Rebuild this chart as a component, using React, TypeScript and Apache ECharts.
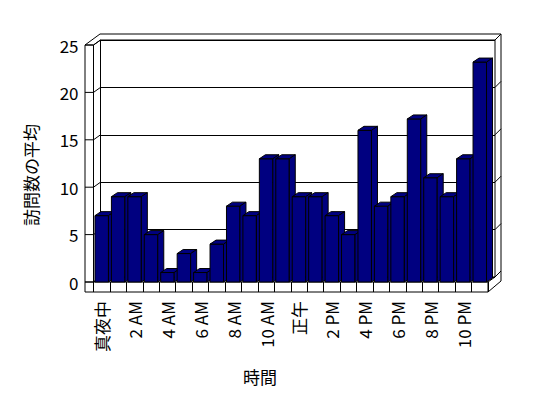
import React, { useEffect, useRef } from "react";
import * as echarts from "echarts";

const hours = [
  "真夜中", "1 AM", "2 AM", "3 AM", "4 AM", "5 AM", "6 AM", "7 AM", "8 AM", "9 AM", "10 AM", "11 AM",
  "正午", "1 PM", "2 PM", "3 PM", "4 PM", "5 PM", "6 PM", "7 PM", "8 PM", "9 PM", "10 PM", "11 PM",
];
const visits = [7, 9, 9, 5, 1, 3, 1, 4, 8, 7, 13, 13, 9, 9, 7, 5, 16, 8, 9, 17.2, 11, 9, 13, 23.2];
const yTicks = [0, 5, 10, 15, 20, 25];
const yTitle = "訪問数の平均";
const xTitle = "時間";

const FONT = "'Noto Sans CJK JP', 'Liberation Sans', sans-serif";
const NAVY = "#000080";

// geometry of the pseudo-3D frame
const GL = 93.5; // front grid left
const GT = 45; // front grid top (value 25)
const GW = 394.5;
const GH = 237; // bottom at 282
const DX = 7; // depth offset of the back wall
const DY = -5;
const TX = 6; // back wall thickness
const TY = -6;
const WALL = 8.5; // left wall thickness
const FLOOR = 10; // floor thickness

export default function App() {
  const ref = useRef<HTMLDivElement>(null);

  useEffect(() => {
    if (!ref.current) return;
    const chart = echarts.init(ref.current, undefined, { renderer: "svg" });
    const GR = GL + GW;
    const GB = GT + GH;
    const BL = GL + DX;
    const BR = GR + DX;
    const BT = GT + DY;
    const BB = GB + DY;
    const line = { stroke: "#000", lineWidth: 1, fill: "none" };

    const frame: any[] = [
      {
        type: "polygon",
        z: -10,
        shape: {
          points: [
            [GL - WALL, GT],
            [BL + TX - WALL + 2, BT + TY],
            [BR + TX, BT + TY],
            [BR + TX, BB + TY + FLOOR],
            [GR, GB + FLOOR],
            [GL - WALL, GB + FLOOR],
          ],
        },
        style: { fill: "#fff", stroke: "#000", lineWidth: 1 },
      },
      { type: "polyline", shape: { points: [[GL - WALL, GT], [GL, GT], [BL, BT], [BR, BT], [BR + TX, BT + TY]] }, style: line },
      { type: "line", shape: { x1: GL, y1: GT, x2: GL, y2: GB }, style: line },
      { type: "line", shape: { x1: BL, y1: BT, x2: BL, y2: BB }, style: line },
      { type: "line", shape: { x1: BR, y1: BT, x2: BR, y2: BB }, style: line },
      { type: "polyline", shape: { points: [[GL, GB], [BL, BB], [BR, BB], [BR + TX, BB + TY]] }, style: line },
      { type: "polyline", shape: { points: [[GL - WALL, GB], [GR, GB], [BR, BB]] }, style: line },
      { type: "line", shape: { x1: GR, y1: GB, x2: GR, y2: GB + FLOOR }, style: line },
      {
        type: "text",
        x: 30,
        y: 175,
        rotation: Math.PI / 2,
        style: { text: yTitle, fontFamily: FONT, fontSize: 17, fill: "#000", align: "center", verticalAlign: "middle" },
      },
      {
        type: "text",
        x: 260,
        y: 376,
        style: { text: xTitle, fontFamily: FONT, fontSize: 17, fill: "#000", align: "center", verticalAlign: "middle" },
      },
    ];

    chart.setOption({
      animation: false,
      backgroundColor: "#fff",
      textStyle: { fontFamily: FONT },
      graphic: { elements: frame },
      grid: [
        { left: GL, top: GT, width: GW, height: GH },
        { left: BL, top: BT, width: GW, height: GH },
      ],
      xAxis: [
        {
          type: "category",
          gridIndex: 0,
          data: hours,
          boundaryGap: true,
          axisLine: { show: false },
          axisTick: { show: true, interval: 0, length: FLOOR, lineStyle: { color: "#000", width: 1 } },
          axisLabel: { interval: 1, rotate: 90, margin: 19, color: "#000", fontSize: 17, fontFamily: FONT },
          splitLine: { show: false },
        },
        {
          type: "category",
          gridIndex: 1,
          data: hours,
          show: false,
        },
      ],
      yAxis: [
        {
          type: "value",
          gridIndex: 0,
          min: 0,
          max: 25,
          interval: 5,
          axisLine: { show: false },
          axisTick: { show: false },
          splitLine: { show: false },
          axisLabel: { margin: 15, color: "#000", fontSize: 17, fontFamily: FONT },
        },
        {
          type: "value",
          gridIndex: 1,
          min: 0,
          max: 25,
          interval: 5,
          axisLine: { show: false },
          axisTick: { show: false },
          axisLabel: { show: false },
          splitLine: { show: true, lineStyle: { color: "#000", width: 1 } },
        },
      ],
      series: [
        {
          type: "custom",
          name: "wallTicks",
          xAxisIndex: 0,
          yAxisIndex: 0,
          silent: true,
          clip: false,
          z: 1,
          data: yTicks.map((v) => [0, v]),
          renderItem: (params: any, api: any) => {
            const c = api.coord([0, api.value(1)]);
            const bw = api.size([1, 0])[0];
            const xl = c[0] - bw / 2;
            const y = c[1];
            const xr = xl + GW + DX;
            return {
              type: "group",
              children: [
                { type: "polyline", shape: { points: [[xl - WALL, y], [xl, y], [xl + DX, y + DY]] }, style: line },
                { type: "line", shape: { x1: xr, y1: y + DY, x2: xr + TX, y2: y + DY + TY }, style: line },
              ],
            };
          },
        },
        {
          type: "custom",
          name: "訪問数の平均",
          xAxisIndex: 0,
          yAxisIndex: 0,
          clip: false,
          z: 3,
          data: visits.map((v, i) => [i, v]),
          renderItem: (params: any, api: any) => {
            const i = api.value(0);
            const top = api.coord([i, api.value(1)]);
            const base = api.coord([i, 0]);
            const bw = api.size([1, 0])[0];
            const w = bw * 0.82;
            const x0 = top[0] - w / 2;
            const x1 = top[0] + w / 2;
            const y = top[1];
            const y0 = base[1];
            const dx = 6;
            const dy = -4;
            const st = { fill: NAVY, stroke: "#000", lineWidth: 1 };
            return {
              type: "group",
              children: [
                { type: "rect", shape: { x: x0, y, width: w, height: y0 - y }, style: st },
                { type: "polygon", shape: { points: [[x0, y], [x1, y], [x1 + dx, y + dy], [x0 + dx, y + dy]] }, style: st },
                { type: "polygon", shape: { points: [[x1, y], [x1 + dx, y + dy], [x1 + dx, y0 + dy], [x1, y0]] }, style: st },
              ],
            };
          },
        },
      ],
    });
    return () => chart.dispose();
  }, []);

  return (
    <div
      ref={ref}
      style={{ position: "fixed", left: 0, top: 0, width: 548, height: 398, background: "#fff" }}
    />
  );
}
